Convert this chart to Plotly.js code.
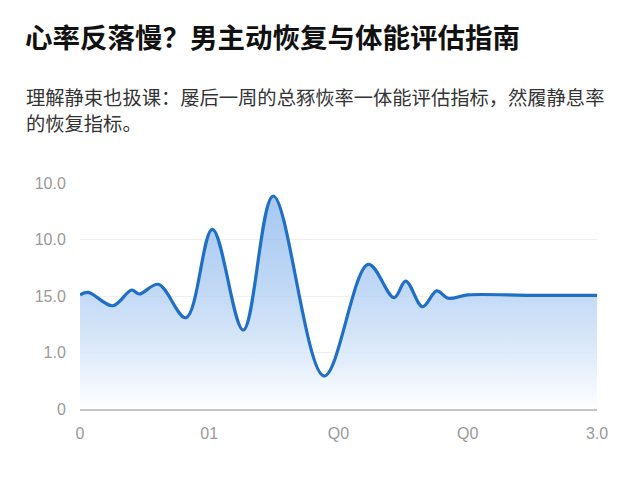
<!DOCTYPE html>
<html>
<head>
<meta charset="utf-8">
<script src="https://cdn.plot.ly/plotly-3.0.1.min.js"></script>
<style>html,body{margin:0;padding:0;background:#fff;}#chart{width:640px;height:480px;}</style>
</head>
<body>
<div id="chart"></div>
<script>
const titleText = "心率反落慢？男主动恢复与体能评估指南";
const subtitleLine1 = "理解静束也扱课：屡后一周的总豩恢率一体能评估指标，然履静息率";
const subtitleLine2 = "的恢复指标。";

const xValues = [0, 0.64, 2.53, 4.0, 4.59, 6.06, 8.2, 10.24, 12.63, 14.95, 18.88, 22.3, 24.3, 25.2, 26.5, 27.6, 28.5, 30.0, 35.0, 40.0];
const yValues = [20.2, 20.65, 18.28, 21.06, 20.35, 22.07, 16.16, 31.8, 13.98, 37.7, 5.84, 25.6, 19.7, 22.65, 18.1, 20.9, 19.6, 20.2, 20.1, 20.1];

const xTickVals = [0, 10, 20, 30, 40];
const xTickText = ["0", "01", "Q0", "Q0", "3.0"];
const yTickVals = [0, 10, 20, 30, 40];
const yTickText = ["0", "1.0", "15.0", "10.0", "10.0"];

const trace = {
  x: xValues,
  y: yValues,
  type: 'scatter',
  mode: 'lines',
  line: {color: '#1f6fc6', width: 3.2, shape: 'spline', smoothing: 1},
  fill: 'tozeroy',
  fillgradient: {
    type: 'vertical',
    colorscale: [[0, 'rgba(255,255,255,0.95)'], [1, 'rgba(110,165,232,0.6)']]
  },
  hoverinfo: 'skip'
};

const W = 640, H = 480;
const L = 80, R = 43, T = 183, B = 71;
const pw = W - L - R, ph = H - T - B;
function px(xp) { return (xp - L) / pw; }
function py(yp) { return (H - B - yp) / ph; }

const layout = {
  width: W, height: H,
  margin: {l: L, r: R, t: T, b: B},
  paper_bgcolor: '#fff',
  plot_bgcolor: '#fff',
  showlegend: false,
  font: {family: 'Noto Sans CJK SC, Noto Sans, sans-serif'},
  title: {
    text: '<b>' + titleText + '</b>',
    x: 25 / W, xref: 'container', xanchor: 'left',
    y: 1 - 38 / H, yref: 'container', yanchor: 'middle',
    font: {size: 27.5, color: '#111', family: 'Noto Sans CJK SC'}
  },
  annotations: [
    {text: subtitleLine1, xref: 'paper', yref: 'paper', x: px(24), y: py(97), xanchor: 'left', yanchor: 'middle', showarrow: false, font: {size: 19.3, color: '#333', family: 'Noto Sans CJK SC'}},
    {text: subtitleLine2, xref: 'paper', yref: 'paper', x: px(24), y: py(123), xanchor: 'left', yanchor: 'middle', showarrow: false, font: {size: 19.3, color: '#333', family: 'Noto Sans CJK SC'}}
  ],
  xaxis: {
    range: [0, 40],
    tickvals: xTickVals, ticktext: xTickText,
    showgrid: false, zeroline: false,
    showline: true, linecolor: '#c4c4c4', linewidth: 1.5,
    ticks: 'outside', ticklen: 9, tickcolor: 'rgba(0,0,0,0)',
    tickfont: {size: 16, color: '#999', family: 'Liberation Sans, Arial, sans-serif'},
    fixedrange: true
  },
  yaxis: {
    range: [0, 40],
    tickvals: yTickVals, ticktext: yTickText,
    showgrid: true, gridcolor: '#efefef', gridwidth: 1,
    zeroline: false, showline: false,
    ticks: 'outside', ticklen: 10, tickcolor: 'rgba(0,0,0,0)',
    tickfont: {size: 16, color: '#999', family: 'Liberation Sans, Arial, sans-serif'},
    fixedrange: true
  }
};

Plotly.newPlot('chart', [trace], layout, {displayModeBar: false, staticPlot: true});
</script>
</body>
</html>
